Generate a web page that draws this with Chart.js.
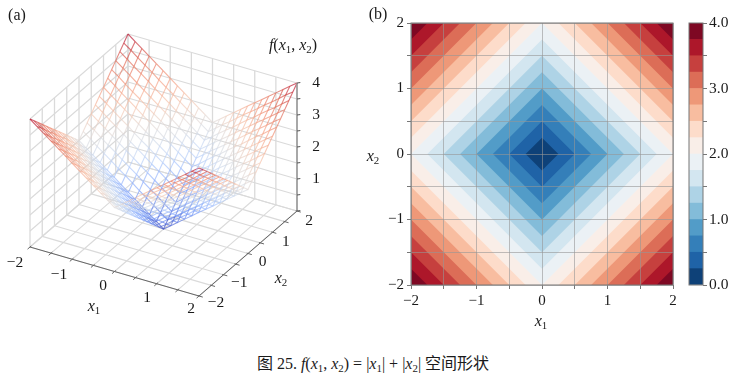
<!DOCTYPE html>
<html>
<head>
<meta charset="utf-8">
<script src="https://cdn.jsdelivr.net/npm/chart.js@4"></script>
<style>
html,body{margin:0;padding:0;background:#fff;}
body{width:734px;height:381px;position:relative;overflow:hidden;font-family:"Liberation Serif","Noto Sans CJK SC",serif;color:#1a1a1a;}
canvas{position:absolute;}
.lbl{position:absolute;transform:translate(-50%,-50%);white-space:nowrap;font-size:16px;line-height:18px;}
.lbl sub{font-size:.68em;line-height:0;vertical-align:-.28em;}
</style>
</head>
<body>
<canvas id="surfaceChart" width="345" height="340" style="left:0;top:0"></canvas>
<canvas id="contourChart" width="330" height="340" style="left:360px;top:0"></canvas>
<canvas id="colorbarChart" width="54" height="340" style="left:680px;top:0"></canvas>

<div class="lbl" style="left:17px;top:15px">(a)</div>
<div class="lbl" style="left:378px;top:14px">(b)</div>
<div class="lbl" style="left:293px;top:45px"><i>f</i>(<i>x</i><sub>1</sub>, <i>x</i><sub>2</sub>)</div>
<div class="lbl" style="left:94px;top:306px"><i>x</i><sub>1</sub></div>
<div class="lbl" style="left:281px;top:278px"><i>x</i><sub>2</sub></div>
<div class="lbl" style="left:541px;top:321px"><i>x</i><sub>1</sub></div>
<div class="lbl" style="left:373px;top:156px"><i>x</i><sub>2</sub></div>
<div class="lbl" style="left:373px;top:364px"><span>图</span> 25. <i>f</i>(<i>x</i><sub>1</sub>, <i>x</i><sub>2</sub>) = |<i>x</i><sub>1</sub>| + |<i>x</i><sub>2</sub>| 空间形状</div>

<script>
// surface samples
const x1Grid = [-2,-1.83,-1.67,-1.5,-1.33,-1.17,-1,-0.83,-0.67,-0.5,-0.33,-0.17,0,0.17,0.33,0.5,0.67,0.83,1,1.17,1.33,1.5,1.67,1.83,2];
const x2Grid = [-2,-1.83,-1.67,-1.5,-1.33,-1.17,-1,-0.83,-0.67,-0.5,-0.33,-0.17,0,0.17,0.33,0.5,0.67,0.83,1,1.17,1.33,1.5,1.67,1.83,2];
const zRows = [
[4,3.83,3.67,3.5,3.33,3.17,3,2.83,2.67,2.5,2.33,2.17,2,2.17,2.33,2.5,2.67,2.83,3,3.17,3.33,3.5,3.67,3.83,4],
[3.83,3.67,3.5,3.33,3.17,3,2.83,2.67,2.5,2.33,2.17,2,1.83,2,2.17,2.33,2.5,2.67,2.83,3,3.17,3.33,3.5,3.67,3.83],
[3.67,3.5,3.33,3.17,3,2.83,2.67,2.5,2.33,2.17,2,1.83,1.67,1.83,2,2.17,2.33,2.5,2.67,2.83,3,3.17,3.33,3.5,3.67],
[3.5,3.33,3.17,3,2.83,2.67,2.5,2.33,2.17,2,1.83,1.67,1.5,1.67,1.83,2,2.17,2.33,2.5,2.67,2.83,3,3.17,3.33,3.5],
[3.33,3.17,3,2.83,2.67,2.5,2.33,2.17,2,1.83,1.67,1.5,1.33,1.5,1.67,1.83,2,2.17,2.33,2.5,2.67,2.83,3,3.17,3.33],
[3.17,3,2.83,2.67,2.5,2.33,2.17,2,1.83,1.67,1.5,1.33,1.17,1.33,1.5,1.67,1.83,2,2.17,2.33,2.5,2.67,2.83,3,3.17],
[3,2.83,2.67,2.5,2.33,2.17,2,1.83,1.67,1.5,1.33,1.17,1,1.17,1.33,1.5,1.67,1.83,2,2.17,2.33,2.5,2.67,2.83,3],
[2.83,2.67,2.5,2.33,2.17,2,1.83,1.67,1.5,1.33,1.17,1,0.83,1,1.17,1.33,1.5,1.67,1.83,2,2.17,2.33,2.5,2.67,2.83],
[2.67,2.5,2.33,2.17,2,1.83,1.67,1.5,1.33,1.17,1,0.83,0.67,0.83,1,1.17,1.33,1.5,1.67,1.83,2,2.17,2.33,2.5,2.67],
[2.5,2.33,2.17,2,1.83,1.67,1.5,1.33,1.17,1,0.83,0.67,0.5,0.67,0.83,1,1.17,1.33,1.5,1.67,1.83,2,2.17,2.33,2.5],
[2.33,2.17,2,1.83,1.67,1.5,1.33,1.17,1,0.83,0.67,0.5,0.33,0.5,0.67,0.83,1,1.17,1.33,1.5,1.67,1.83,2,2.17,2.33],
[2.17,2,1.83,1.67,1.5,1.33,1.17,1,0.83,0.67,0.5,0.33,0.17,0.33,0.5,0.67,0.83,1,1.17,1.33,1.5,1.67,1.83,2,2.17],
[2,1.83,1.67,1.5,1.33,1.17,1,0.83,0.67,0.5,0.33,0.17,0,0.17,0.33,0.5,0.67,0.83,1,1.17,1.33,1.5,1.67,1.83,2],
[2.17,2,1.83,1.67,1.5,1.33,1.17,1,0.83,0.67,0.5,0.33,0.17,0.33,0.5,0.67,0.83,1,1.17,1.33,1.5,1.67,1.83,2,2.17],
[2.33,2.17,2,1.83,1.67,1.5,1.33,1.17,1,0.83,0.67,0.5,0.33,0.5,0.67,0.83,1,1.17,1.33,1.5,1.67,1.83,2,2.17,2.33],
[2.5,2.33,2.17,2,1.83,1.67,1.5,1.33,1.17,1,0.83,0.67,0.5,0.67,0.83,1,1.17,1.33,1.5,1.67,1.83,2,2.17,2.33,2.5],
[2.67,2.5,2.33,2.17,2,1.83,1.67,1.5,1.33,1.17,1,0.83,0.67,0.83,1,1.17,1.33,1.5,1.67,1.83,2,2.17,2.33,2.5,2.67],
[2.83,2.67,2.5,2.33,2.17,2,1.83,1.67,1.5,1.33,1.17,1,0.83,1,1.17,1.33,1.5,1.67,1.83,2,2.17,2.33,2.5,2.67,2.83],
[3,2.83,2.67,2.5,2.33,2.17,2,1.83,1.67,1.5,1.33,1.17,1,1.17,1.33,1.5,1.67,1.83,2,2.17,2.33,2.5,2.67,2.83,3],
[3.17,3,2.83,2.67,2.5,2.33,2.17,2,1.83,1.67,1.5,1.33,1.17,1.33,1.5,1.67,1.83,2,2.17,2.33,2.5,2.67,2.83,3,3.17],
[3.33,3.17,3,2.83,2.67,2.5,2.33,2.17,2,1.83,1.67,1.5,1.33,1.5,1.67,1.83,2,2.17,2.33,2.5,2.67,2.83,3,3.17,3.33],
[3.5,3.33,3.17,3,2.83,2.67,2.5,2.33,2.17,2,1.83,1.67,1.5,1.67,1.83,2,2.17,2.33,2.5,2.67,2.83,3,3.17,3.33,3.5],
[3.67,3.5,3.33,3.17,3,2.83,2.67,2.5,2.33,2.17,2,1.83,1.67,1.83,2,2.17,2.33,2.5,2.67,2.83,3,3.17,3.33,3.5,3.67],
[3.83,3.67,3.5,3.33,3.17,3,2.83,2.67,2.5,2.33,2.17,2,1.83,2,2.17,2.33,2.5,2.67,2.83,3,3.17,3.33,3.5,3.67,3.83],
[4,3.83,3.67,3.5,3.33,3.17,3,2.83,2.67,2.5,2.33,2.17,2,2.17,2.33,2.5,2.67,2.83,3,3.17,3.33,3.5,3.67,3.83,4]
];

const axisTicks = [-2,-1,0,1,2];
const axisMinorTicks = [-2,-1.5,-1,-0.5,0,0.5,1,1.5,2];
const zLabelTicks = [1,2,3,4];
const zMinorTicks = [0,0.5,1,1.5,2,2.5,3,3.5,4];

// contour bands of panel (b), outer edge of each band
const bandLevels = [0.25,0.5,0.75,1,1.25,1.5,1.75,2,2.25,2.5,2.75,3,3.25,3.5,3.75,4];
const bandColors = ['#0e4178','#1f63a7','#347fb9','#529cc8','#83bcd9','#aed3e6','#d3e6f0','#ebf1f5','#f9eee8','#fddcca','#f8bda0','#ee9878','#dc6d57','#c6403e','#ad172a','#7e0823'];
const colorbarTicks = [0,1,2,3,4];

const coolwarmStops = [[59,76,192],[98,130,234],[141,176,254],[192,212,245],[221,221,221],[245,196,173],[244,152,122],[222,96,77],[180,4,38]];

Chart.defaults.font.family = '"Liberation Serif", serif';
Chart.defaults.font.size = 15;
Chart.defaults.color = '#1a1a1a';
Chart.defaults.animation = false;

function minusLabel(v){
    return String(v).replace('-','\u2212');
}

function coolwarm(t){
    let p = Math.max(0,Math.min(1,t))*(coolwarmStops.length-1);
    let i = Math.min(Math.floor(p),coolwarmStops.length-2);
    let f = p-i;
    let c = coolwarmStops[i].map((v,k)=>Math.round(v+(coolwarmStops[i+1][k]-v)*f));
    return `rgba(${c[0]},${c[1]},${c[2]},0.68)`;
}

// panel (a) is a nearly orthographic view, so three axis vectors are enough
function project(x1,x2,z){
    return {
        x: 163.5 + x1*42.25 + x2*24.5,
        y: 229 + x1*12.25 - x2*21.25 - z*32
    };
}

function segLine(p,q,color,width){
    return {
        data:[project(p[0],p[1],p[2]),project(q[0],q[1],q[2])],
        showLine:true,pointRadius:0,borderColor:color,borderWidth:width
    };
}

function surfaceLine(points,zs){
    return {
        data:points,
        showLine:true,pointRadius:0,borderWidth:1.1,borderColor:'#ddd',
        segment:{
            borderColor:ctx=>coolwarm((zs[ctx.p0DataIndex]+zs[ctx.p1DataIndex])/8)
        }
    };
}

const wallColor = '#dadada';
let surfaceSets = [];
// floor and the two walls
axisMinorTicks.forEach(t=>{
    surfaceSets.push(segLine([t,-2,0],[t,2,0],wallColor,1.1));
    surfaceSets.push(segLine([-2,t,0],[2,t,0],wallColor,1.1));
    surfaceSets.push(segLine([-2,t,0],[-2,t,4],wallColor,1.3));
    surfaceSets.push(segLine([t,2,0],[t,2,4],wallColor,1.3));
});
zMinorTicks.forEach(h=>{
    surfaceSets.push(segLine([-2,-2,h],[-2,2,h],wallColor,1.1));
    surfaceSets.push(segLine([-2,2,h],[2,2,h],wallColor,1.1));
});
// mesh, back rows first
for(let k=x2Grid.length-1;k>=0;k--){
    surfaceSets.push(surfaceLine(x1Grid.map((x,j)=>project(x,x2Grid[k],zRows[k][j])),zRows[k]));
}
for(let j=0;j<x1Grid.length;j++){
    let zs = x2Grid.map((_,k)=>zRows[k][j]);
    surfaceSets.push(surfaceLine(x2Grid.map((y,k)=>project(x1Grid[j],y,zRows[k][j])),zs));
}
// axes with their ticks
surfaceSets.push(segLine([-2,-2,0],[2,-2,0],'#666',1));
surfaceSets.push(segLine([2,-2,0],[2,2,0],'#666',1));
surfaceSets.push(segLine([2,2,0],[2,2,4],'#999',1.6));
axisMinorTicks.forEach(t=>{
    surfaceSets.push(segLine([t,-2.1,0],[t,-1.95,0],'#666',1));
    surfaceSets.push(segLine([2.09,t,0],[1.97,t,0],'#666',1));
});
zMinorTicks.forEach(h=>{
    surfaceSets.push(segLine([2,2,h],[2.05,2.05,h],'#555',1));
});
surfaceSets.forEach((d,i)=>{d.order=-i;});

// tick labels of the 3d axes sit outside any cartesian scale
const labels3d = {
    id:'labels3d',
    afterDatasetsDraw(chart){
        const ctx = chart.ctx;
        const px = v=>chart.scales.x.getPixelForValue(v);
        const py = v=>chart.scales.y.getPixelForValue(v);
        ctx.save();
        ctx.font = '15.5px "Liberation Serif", serif';
        ctx.fillStyle = '#1a1a1a';
        ctx.textAlign = 'center';
        ctx.textBaseline = 'middle';
        axisTicks.forEach(t=>{
            let f = (t+2)/4;
            ctx.fillText(minusLabel(t),px(15+176*f),py(263+46*f));
            ctx.fillText(minusLabel(t),px(216+93*f),py(303-82*f));
        });
        zLabelTicks.forEach(h=>{
            let p = project(2,2,h);
            ctx.fillText(String(h),px(p.x+19),py(p.y));
        });
        ctx.restore();
    }
};

new Chart(document.getElementById('surfaceChart'),{
    type:'scatter',
    data:{datasets:surfaceSets},
    plugins:[labels3d],
    options:{
        responsive:false,
        events:[],
        layout:{padding:0},
        plugins:{legend:{display:false},tooltip:{enabled:false}},
        scales:{
            x:{type:'linear',display:false,min:0,max:345},
            y:{type:'linear',display:false,min:0,max:340,reverse:true}
        }
    }
});

// frame round the plot area, drawn last
function framePlugin(color){
    return {
        id:'frame',
        afterDraw(chart){
            const a = chart.chartArea, ctx = chart.ctx;
            ctx.save();
            ctx.strokeStyle = color;
            ctx.lineWidth = 1;
            ctx.strokeRect(a.left,a.top,a.right-a.left,a.bottom-a.top);
            ctx.restore();
        }
    };
}

function contourAxis(fit){
    return {
        type:'linear',min:-2,max:2,
        afterBuildTicks(scale){ scale.ticks = axisMinorTicks.map(v=>({value:v})); },
        afterFit:fit,
        border:{display:false},
        grid:{color:'rgba(150,150,150,0.6)',lineWidth:1,z:1,drawTicks:true,tickLength:4,tickColor:'#777'},
        ticks:{
            autoSkip:false,maxRotation:0,padding:3,
            callback:v=>axisTicks.includes(v)?minusLabel(v):''
        }
    };
}

// biggest diamond goes down first, each smaller one paints over it
let bandSets = bandLevels.map((L,i)=>({
    data:[{x:L,y:0},{x:0,y:L},{x:-L,y:0},{x:0,y:-L},{x:L,y:0}],
    showLine:true,pointRadius:0,borderWidth:0,
    borderColor:bandColors[i],backgroundColor:bandColors[i],
    fill:'shape',tension:0,order:i
}));

new Chart(document.getElementById('contourChart'),{
    type:'scatter',
    data:{datasets:bandSets},
    plugins:[framePlugin('#777')],
    options:{
        responsive:false,
        events:[],
        layout:{padding:{top:23,right:17,left:0,bottom:0}},
        plugins:{legend:{display:false},tooltip:{enabled:false}},
        scales:{
            x:contourAxis(s=>{s.height=55;}),
            y:contourAxis(s=>{s.width=51;})
        }
    }
});

new Chart(document.getElementById('colorbarChart'),{
    type:'bar',
    data:{
        labels:[''],
        datasets:bandLevels.map((L,i)=>({
            data:[0.25],backgroundColor:bandColors[i],borderWidth:0,
            barPercentage:1,categoryPercentage:1
        }))
    },
    plugins:[framePlugin('#777')],
    options:{
        responsive:false,
        events:[],
        layout:{padding:{top:23,left:9,right:0,bottom:55}},
        plugins:{legend:{display:false},tooltip:{enabled:false}},
        scales:{
            x:{stacked:true,display:false},
            y:{
                stacked:true,position:'right',min:0,max:4,
                afterBuildTicks(scale){ scale.ticks = zMinorTicks.map(v=>({value:v})); },
                afterFit(s){ s.width=31; },
                border:{display:false},
                grid:{drawOnChartArea:false,drawTicks:true,tickLength:4,tickColor:'#777'},
                ticks:{
                    autoSkip:false,padding:2,font:{size:15.5},
                    callback:v=>colorbarTicks.includes(v)?v.toFixed(1):''
                }
            }
        }
    }
});
</script>
</body>
</html>
